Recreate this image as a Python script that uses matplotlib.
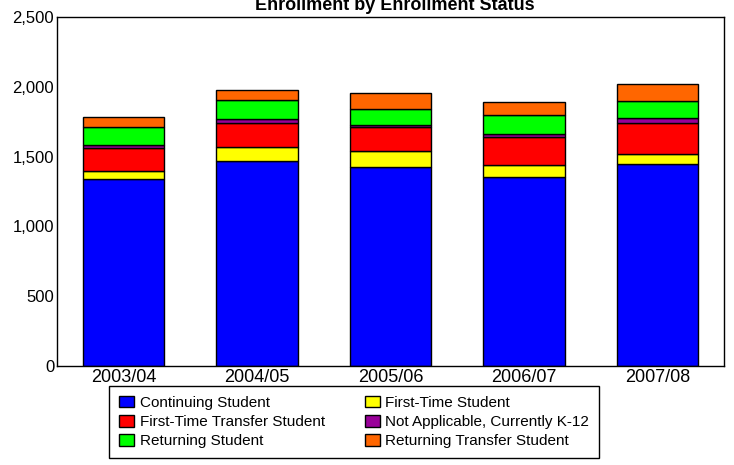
import numpy as np
import matplotlib
matplotlib.use("Agg")
import matplotlib.pyplot as plt

plt.rcParams['font.family'] = ['Liberation Sans', 'DejaVu Sans']

years = ['2003/04', '2004/05', '2005/06', '2006/07', '2007/08']
statuses = ['Continuing Student', 'First-Time Student', 'First-Time Transfer Student',
            'Not Applicable, Currently K-12', 'Returning Student', 'Returning Transfer Student']
colors = ['#0000FF', '#FFFF00', '#FF0000', '#990099', '#00FF00', '#FF6600']

# student counts per status
continuing = [1337, 1466, 1425, 1354, 1449]
first_time = [60, 101, 113, 83, 67]
first_transfer = [162, 176, 174, 201, 227]
k12 = [26, 24, 12, 24, 31]
returning = [129, 141, 117, 134, 124]
returning_transfer = [70, 71, 112, 95, 120]

series = [continuing, first_time, first_transfer, k12, returning, returning_transfer]

fig = plt.figure(figsize=(7.34, 4.65), dpi=100)
ax = fig.add_axes([57 / 734, 1 - 366 / 465, 667 / 734, 349 / 465])

x = np.arange(len(years))
bottom = np.zeros(len(years))
handles = []
for vals, name, col in zip(series, statuses, colors):
    b = ax.bar(x, vals, width=0.61, bottom=bottom, color=col,
               edgecolor='black', linewidth=1, label=name)
    handles.append(b)
    bottom += np.array(vals)

ax.set_xlim(-0.5, len(years) - 0.5)
ax.set_ylim(0, 2500)
ax.set_yticks(range(0, 2501, 500))
ax.set_yticklabels([f'{v:,}' for v in range(0, 2501, 500)], fontsize=12)
ax.set_xticks(x)
ax.set_xticklabels(years, fontsize=13)
ax.tick_params(axis='both', length=0, pad=2)
for s in ax.spines.values():
    s.set_linewidth(1)
    s.set_color('black')

fig.text(0.538, 1 - 10 / 465, 'Enrollment by Enrollment Status', ha='center',
         va='baseline', fontsize=13, fontweight='bold')

# order so that the two columns read row by row
order = [0, 2, 4, 1, 3, 5]
leg = fig.legend([handles[i] for i in order], [statuses[i] for i in order],
                 ncol=2, loc='center', mode='expand',
                 bbox_to_anchor=(109 / 734, 5 / 465, 490 / 734, 76 / 465),
                 bbox_transform=fig.transFigure, fontsize=11, fancybox=False,
                 edgecolor='black', framealpha=1, borderpad=0.65,
                 labelspacing=0.33, handlelength=1.0, handleheight=0.8,
                 handletextpad=0.35, columnspacing=1.0, borderaxespad=0)
leg.get_frame().set_linewidth(1)

fig.savefig('out.png', dpi=100)
